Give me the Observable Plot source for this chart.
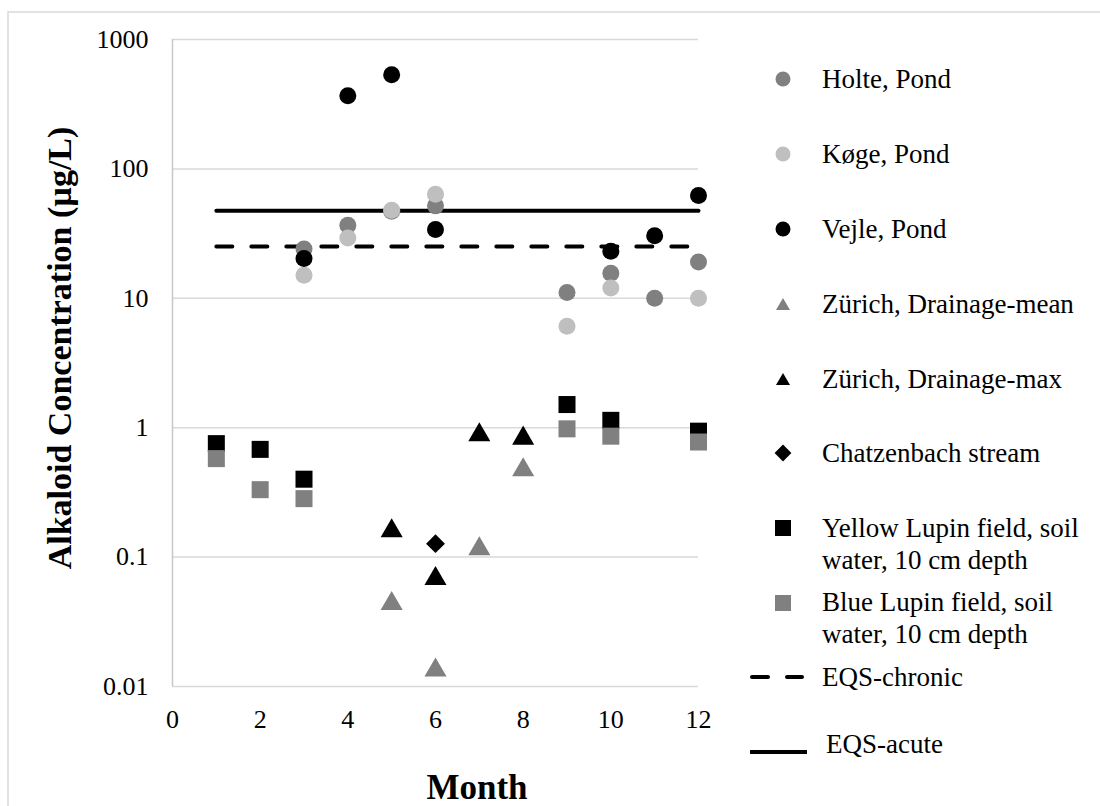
<!DOCTYPE html>
<html>
<head>
<meta charset="utf-8">
<script src="https://cdn.jsdelivr.net/npm/d3@7"></script>
<script src="https://cdn.jsdelivr.net/npm/@observablehq/plot@0.6"></script>
<style>
  html, body { margin: 0; padding: 0; background: #fff; }
  #chart { width: 1100px; height: 806px; overflow: hidden; }
  #chart svg text { font-family: 'Liberation Serif', 'Times New Roman', serif; }
</style>
</head>
<body>
<div id="chart"></div>
<script>
// ---- data (month, concentration µg/L) ----
const holte       = [[3, 24], [4, 36.7], [5, 47], [6, 51.8], [9, 11.1], [10, 15.6], [11, 10], [12, 19.1]];
const koge        = [[3, 15.1], [4, 29.3], [5, 48], [6, 63.8], [9, 6.08], [10, 12], [12, 10]];
const vejle       = [[3, 20.3], [4, 367], [5, 534], [6, 34], [10, 23.1], [11, 30.4], [12, 62.4]];
const zurichMean  = [[5, 0.046], [6, 0.0141], [7, 0.122], [8, 0.497]];
const zurichMax   = [[5, 0.168], [6, 0.0718], [7, 0.927], [8, 0.874]];
const chatzenbach = [[6, 0.127]];
const yellowLupin = [[1, 0.753], [2, 0.68], [3, 0.40], [9, 1.51], [10, 1.14], [12, 0.94]];
const blueLupin   = [[1, 0.577], [2, 0.332], [3, 0.283], [9, 0.98], [10, 0.86], [12, 0.775]];
const eqsMonths   = [1, 12];
const eqsChronic  = 25.1;
const eqsAcute    = 47.4;

const xTicks = [0, 2, 4, 6, 8, 10, 12];
const yTicks = [0.01, 0.1, 1, 10, 100, 1000];
const yTickLabels = ["0.01", "0.1", "1", "10", "100", "1000"];

const legendItems = [
  {label: ["Holte, Pond"], kind: "circle", color: "#808080"},
  {label: ["Køge, Pond"], kind: "circle", color: "#bfbfbf"},
  {label: ["Vejle, Pond"], kind: "circle", color: "#000000"},
  {label: ["Zürich, Drainage-mean"], kind: "triangle", color: "#808080"},
  {label: ["Zürich, Drainage-max"], kind: "triangle", color: "#000000"},
  {label: ["Chatzenbach stream"], kind: "diamond", color: "#000000"},
  {label: ["Yellow Lupin field, soil", "water, 10 cm depth"], kind: "square", color: "#000000"},
  {label: ["Blue Lupin field, soil", "water, 10 cm depth"], kind: "square", color: "#808080"},
  {label: ["EQS-chronic"], kind: "dash", color: "#000000"},
  {label: ["EQS-acute"], kind: "solid", color: "#000000"}
];

const X = d => d[0], Y = d => d[1];
const eqsLine = v => eqsMonths.map(m => [m, v]);
const font = "'Liberation Serif', 'Times New Roman', serif";

const plot = Plot.plot({
  width: 1100,
  height: 806,
  marginLeft: 172,
  marginRight: 402,
  marginTop: 39,
  marginBottom: 120,
  style: {fontFamily: font, fontSize: "26px", color: "#000", background: "#fff"},
  x: {domain: [0, 12]},
  y: {type: "log", domain: [0.01, 1000]},
  marks: [
    Plot.gridY(yTicks, {stroke: "#d9d9d9", strokeOpacity: 1, strokeWidth: 1.5}),
    Plot.ruleX([0], {stroke: "#c8c8c8", strokeWidth: 1.5}),
    Plot.axisX({ticks: xTicks, tickSize: 0, tickPadding: 23, label: null, fontSize: 26, tickFormat: d => String(d)}),
    Plot.axisY({ticks: yTicks, tickSize: 0, tickPadding: 24, label: null, fontSize: 26,
      tickFormat: d => yTickLabels[yTicks.indexOf(d)]}),
    Plot.line(eqsLine(eqsChronic), {x: X, y: Y, stroke: "#000", strokeWidth: 4, strokeDasharray: "16,19", strokeLinecap: "round"}),
    Plot.line(eqsLine(eqsAcute), {x: X, y: Y, stroke: "#000", strokeWidth: 4, strokeLinecap: "round"}),
    Plot.dot(holte, {x: X, y: Y, r: 8.5, fill: "#808080", symbol: "circle"}),
    Plot.dot(koge, {x: X, y: Y, r: 8.5, fill: "#bfbfbf", symbol: "circle"}),
    Plot.dot(vejle, {x: X, y: Y, r: 8.5, fill: "#000000", symbol: "circle"}),
    Plot.dot(zurichMean, {x: X, y: Y, r: 8.2, dy: 3, fill: "#808080", symbol: "triangle"}),
    Plot.dot(zurichMax, {x: X, y: Y, r: 8.2, dy: 3, fill: "#000000", symbol: "triangle"}),
    Plot.dot(chatzenbach, {x: X, y: Y, r: 8.5, fill: "#000000", symbol: "diamond2"}),
    Plot.dot(yellowLupin, {x: X, y: Y, r: 9.6, fill: "#000000", symbol: "square"}),
    Plot.dot(blueLupin, {x: X, y: Y, r: 9.6, fill: "#808080", symbol: "square"})
  ]
});

document.getElementById("chart").appendChild(plot);

const svg = d3.select(plot);

// outer chart border
svg.insert("rect", ":first-child")
  .attr("x", 8).attr("y", 12).attr("width", 1200).attr("height", 900)
  .attr("fill", "none").attr("stroke", "#d9d9d9").attr("stroke-width", 1.5);

// axis titles
svg.append("text")
  .attr("x", 477).attr("y", 799)
  .attr("text-anchor", "middle")
  .style("font-family", font).style("font-size", "35px").style("font-weight", "bold")
  .text("Month");
svg.append("text")
  .attr("transform", "translate(71,348) rotate(-90)")
  .attr("text-anchor", "middle")
  .style("font-family", font).style("font-size", "34px").style("font-weight", "bold")
  .text("Alkaloid Concentration (µg/L)");

// legend
const legendMarkerY = [79, 154, 229, 304, 379, 453, 528, 603, 677, 752];
const legendBaselines = [[88], [163], [238], [313], [388], [462], [537, 569], [611, 643], [686], [753]];
const lg = svg.append("g").attr("text-anchor", "start");
legendItems.forEach((item, i) => {
  const my = legendMarkerY[i];
  const g = lg.append("g");
  if (item.kind === "circle") {
    g.append("circle").attr("cx", 783).attr("cy", my).attr("r", 7.5).attr("fill", item.color);
  } else if (item.kind === "triangle") {
    g.append("path").attr("transform", `translate(783,${my + 2})`)
      .attr("d", d3.symbol(d3.symbolTriangle, 85)()).attr("fill", item.color);
  } else if (item.kind === "diamond") {
    g.append("path").attr("transform", `translate(783,${my})`)
      .attr("d", d3.symbol(d3.symbolDiamond2, 180)()).attr("fill", item.color);
  } else if (item.kind === "square") {
    g.append("path").attr("transform", `translate(783,${my})`)
      .attr("d", d3.symbol(d3.symbolSquare, 256)()).attr("fill", item.color);
  } else if (item.kind === "dash") {
    g.append("line").attr("x1", 752).attr("x2", 802).attr("y1", my).attr("y2", my)
      .attr("stroke", item.color).attr("stroke-width", 4).attr("stroke-linecap", "round")
      .attr("stroke-dasharray", "16,19");
  } else if (item.kind === "solid") {
    g.append("line").attr("x1", 750).attr("x2", 807).attr("y1", my).attr("y2", my)
      .attr("stroke", item.color).attr("stroke-width", 4);
  }
  const tx = item.kind === "solid" ? 826 : 822;
  item.label.forEach((line, j) => {
    g.append("text").attr("x", tx).attr("y", legendBaselines[i][j])
      .attr("text-anchor", "start")
      .style("font-family", font).style("font-size", "27px").attr("fill", "#000")
      .text(line);
  });
});
</script>
</body>
</html>
